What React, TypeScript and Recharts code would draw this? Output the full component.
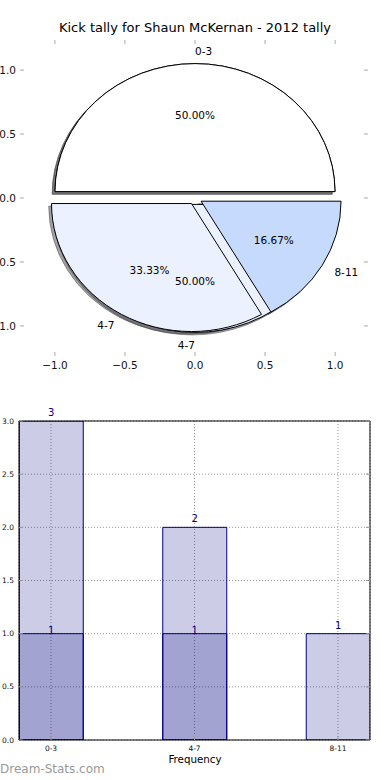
import React from "react";
import {
  PieChart,
  Pie,
  Cell,
  ScatterChart,
  Scatter,
  BarChart,
  Bar,
  XAxis,
  YAxis,
  CartesianGrid,
  LabelList,
} from "recharts";

// kick distance buckets
const categories = ["0-3", "4-7", "8-11"];
const totalKicks = [3, 2, 1];
const overlayKicks = [1, 1];
const pieTicks = [-1, -0.5, 0, 0.5, 1];
const barYTicks = [0, 0.5, 1, 1.5, 2, 2.5, 3];

const sliceColors = ["#ffffff", "#ebf1fe", "#c6dafe"];
const NAVY = "#000080";
const FONT = "DejaVu Sans";

const RX = 140;
const RY = 128;
const EXPLODE = 0.05;
const SHADOW = 0.02;
const RAD = Math.PI / 180;

const pieAll = categories.map((name, i) => ({ name, value: totalKicks[i] }));
const pieOverlay = overlayKicks.map((v, i) => ({ name: categories[i], value: v }));
const barRows = categories.map((label, i) => ({
  idx: i,
  label,
  back: totalKicks[i],
  front: overlayKicks[i] ?? null,
}));

// label keys of the full pie, so identical labels of the overlay pie are not drawn twice
function midKeys(rows: { name: string; value: number }[]) {
  const sum = rows.reduce((a, r) => a + r.value, 0);
  let acc = 0;
  return rows.map((r) => {
    const mid = (acc + r.value / 2) / sum;
    acc += r.value;
    return `${r.name}:${mid.toFixed(4)}`;
  });
}
const allKeys = new Set(midKeys(pieAll));
const overlayKeys = midKeys(pieOverlay);

function shade(hex: string) {
  const n = parseInt(hex.slice(1), 16);
  const r = Math.round(((n >> 16) & 255) * 0.3);
  const g = Math.round(((n >> 8) & 255) * 0.3);
  const b = Math.round((n & 255) * 0.3);
  return `rgb(${r},${g},${b})`;
}

function wedgePath(ox: number, oy: number, rx: number, ry: number, a0: number, a1: number) {
  const x0 = ox + rx * Math.cos(a0 * RAD);
  const y0 = oy - ry * Math.sin(a0 * RAD);
  const x1 = ox + rx * Math.cos(a1 * RAD);
  const y1 = oy - ry * Math.sin(a1 * RAD);
  const large = a1 - a0 > 180 ? 1 : 0;
  return `M${ox},${oy} L${x0},${y0} A${rx},${ry} 0 ${large} 0 ${x1},${y1} Z`;
}

function geom(props: any) {
  const { cx, cy, outerRadius, startAngle, endAngle } = props;
  const rx = outerRadius;
  const ry = (outerRadius * RY) / RX;
  const m = ((startAngle + endAngle) / 2) * RAD;
  return {
    rx,
    ry,
    ox: cx + EXPLODE * rx * Math.cos(m),
    oy: cy - EXPLODE * ry * Math.sin(m),
    a0: startAngle,
    a1: endAngle,
  };
}

// shadows sit below every wedge, as in matplotlib
function WedgeShadow(props: any) {
  const g = geom(props);
  const sh = shade(props.fill || "#ffffff");
  return (
    <path
      d={wedgePath(g.ox - SHADOW * g.rx, g.oy + SHADOW * g.ry, g.rx, g.ry, g.a0, g.a1)}
      fill={sh}
      stroke={sh}
      fillOpacity={0.5}
      strokeOpacity={0.5}
    />
  );
}

function Wedge(props: any) {
  const g = geom(props);
  return <path d={wedgePath(g.ox, g.oy, g.rx, g.ry, g.a0, g.a1)} fill={props.fill} stroke="#000" strokeWidth={1} />;
}

function pieLabel(p: any) {
  const a = p.midAngle * RAD;
  const c = Math.cos(a);
  const s = Math.sin(a);
  const ox = p.cx + EXPLODE * RX * c;
  const oy = p.cy - EXPLODE * RY * s;
  return (
    <g fontFamily={FONT} fontSize={10.5} fill="#000">
      <text x={ox + 1.1 * RX * c} y={oy - 1.1 * RY * s} textAnchor={c > 0 ? "start" : "end"} dominantBaseline="central">
        {p.name}
      </text>
      <text x={ox + 0.6 * RX * c} y={oy - 0.6 * RY * s} textAnchor="middle" dominantBaseline="central">
        {(p.percent * 100).toFixed(2)}%
      </text>
    </g>
  );
}

function overlayLabel(p: any) {
  if (allKeys.has(overlayKeys[p.index])) return <g />;
  return pieLabel(p);
}

const fmt = (v: number) => (v < 0 ? "\u2212" : "") + Math.abs(v).toFixed(1);

// pie frame: plot area 22..368 x 40..356
function PieXTick(p: any) {
  const x = p.x;
  return (
    <g>
      <line x1={x} x2={x} y1={356} y2={352} stroke="#aaa" />
      <line x1={x} x2={x} y1={40} y2={44} stroke="#aaa" />
      <text x={x} y={365} textAnchor="middle" dominantBaseline="central" fontFamily={FONT} fontSize={10.5} fill="#111">
        {fmt(p.payload.value)}
      </text>
    </g>
  );
}

function PieYTick(p: any) {
  const y = p.y;
  return (
    <g>
      <line x1={20} x2={24} y1={y} y2={y} stroke="#aaa" />
      <line x1={368} x2={364} y1={y} y2={y} stroke="#aaa" />
      <text x={16} y={y} textAnchor="end" dominantBaseline="central" fontFamily={FONT} fontSize={10.5} fill="#111">
        {fmt(p.payload.value)}
      </text>
    </g>
  );
}

function BarXTick(p: any) {
  const x = p.x;
  return (
    <g>
      <line x1={x} x2={x} y1={360} y2={356} stroke="#999" />
      <text x={x} y={368} textAnchor="middle" dominantBaseline="central" fontFamily={FONT} fontSize={7.5} fill="#111">
        {categories[p.payload.value]}
      </text>
    </g>
  );
}

function BarYTick(p: any) {
  const y = p.y;
  return (
    <g>
      <line x1={19} x2={23} y1={y} y2={y} stroke="#999" />
      <line x1={370} x2={366} y1={y} y2={y} stroke="#999" />
      <text x={14} y={y} textAnchor="end" dominantBaseline="central" fontFamily={FONT} fontSize={7.5} fill="#111">
        {p.payload.value.toFixed(1)}
      </text>
    </g>
  );
}

function pieLayer(data: { name: string; value: number }[], extra: any) {
  return (
    <Pie
      data={data}
      dataKey="value"
      nameKey="name"
      cx={195}
      cy={198}
      outerRadius={RX}
      startAngle={0}
      endAngle={360}
      labelLine={false}
      isAnimationActive={false}
      {...extra}
    >
      {extra.fill === "none"
        ? null
        : data.map((_, i) => <Cell key={i} fill={sliceColors[i]} />)}
    </Pie>
  );
}

export default function App() {
  return (
    <div style={{ position: "absolute", left: 0, top: 0, width: 390, height: 780, background: "#fff", fontFamily: FONT, overflow: "hidden" }}>
      <div style={{ position: "absolute", top: 20, left: 0, width: 390, textAlign: "center", fontSize: 13, color: "#000" }}>
        Kick tally for Shaun McKernan - 2012 tally
      </div>

      <div style={{ position: "absolute", top: 0, left: 0 }}>
        <PieChart width={390} height={380} margin={{ top: 0, right: 0, bottom: 0, left: 0 }}>
          {pieLayer(pieOverlay, { shape: WedgeShadow })}
          {pieLayer(pieAll, { shape: WedgeShadow })}
          {pieLayer(pieOverlay, { shape: Wedge })}
          {pieLayer(pieAll, { shape: Wedge })}
          {pieLayer(pieOverlay, { fill: "none", stroke: "none", label: overlayLabel })}
          {pieLayer(pieAll, { fill: "none", stroke: "none", label: pieLabel })}
        </PieChart>
      </div>

      <div style={{ position: "absolute", top: 0, left: 0, pointerEvents: "none" }}>
        <ScatterChart width={390} height={380} margin={{ top: 40, right: 22, bottom: 0, left: 0 }}>
          <XAxis type="number" dataKey="x" domain={[-1.235, 1.235]} ticks={pieTicks} allowDataOverflow axisLine={false} tickLine={false} height={24} tick={PieXTick} interval={0} />
          <YAxis type="number" dataKey="y" domain={[-1.235, 1.235]} ticks={pieTicks} allowDataOverflow axisLine={false} tickLine={false} width={22} tick={PieYTick} interval={0} />
          <Scatter data={[]} isAnimationActive={false} />
        </ScatterChart>
      </div>

      <div style={{ position: "absolute", top: 380, left: 0 }}>
        <BarChart width={390} height={400} data={barRows} margin={{ top: 40, right: 19, bottom: 0, left: 0 }} barSize={64} barGap={-64}>
          <XAxis type="number" dataKey="idx" domain={[-0.223, 2.223]} ticks={[0, 1, 2]} allowDataOverflow interval={0} height={40} stroke="#000" tickLine={false} tick={BarXTick} />
          <YAxis type="number" domain={[0, 3]} ticks={barYTicks} allowDataOverflow interval={0} width={19} stroke="#000" tickLine={false} tick={BarYTick} />
          <XAxis xAxisId="top" orientation="top" type="number" dataKey="idx" domain={[-0.223, 2.223]} allowDataOverflow height={1} stroke="#000" tick={false} tickLine={false} />
          <YAxis yAxisId="right" orientation="right" type="number" domain={[0, 3]} allowDataOverflow width={1} stroke="#000" tick={false} tickLine={false} />
          <Bar dataKey="back" fill={NAVY} fillOpacity={0.2} stroke={NAVY} strokeWidth={1} isAnimationActive={false}>
            <LabelList dataKey="back" position="top" offset={5} fill={NAVY} fontSize={10} fontFamily={FONT} />
          </Bar>
          <Bar dataKey="front" fill={NAVY} fillOpacity={0.2} stroke={NAVY} strokeWidth={1} isAnimationActive={false}>
            <LabelList dataKey="front" position="top" offset={0} fill={NAVY} fontSize={10} fontFamily={FONT} />
          </Bar>
          <CartesianGrid stroke="#999" strokeDasharray="1 2" />
        </BarChart>
      </div>

      <div style={{ position: "absolute", top: 753, left: 0, width: 390, textAlign: "center", fontSize: 10.3, color: "#000" }}>
        Frequency
      </div>
      <div style={{ position: "absolute", top: 762, left: 0, fontSize: 12, color: "#999" }}>Dream-Stats.com</div>
    </div>
  );
}
